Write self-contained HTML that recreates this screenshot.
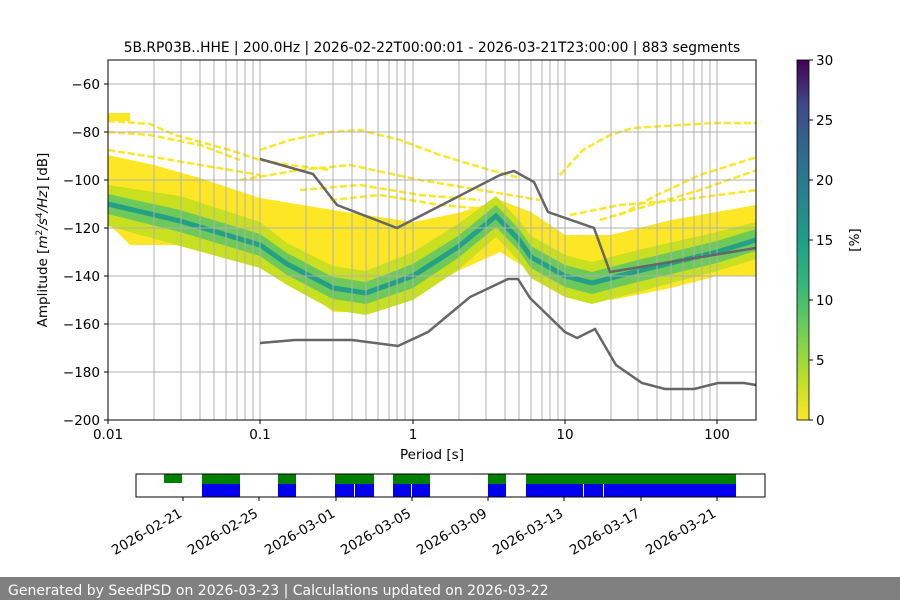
<!DOCTYPE html>
<html><head><meta charset="utf-8"><style>
body{margin:0;background:#fff;}
svg text{font-family:"DejaVu Sans","Liberation Sans",sans-serif;font-size:13.5px;fill:#000;}
</style></head><body>
<svg width="900" height="600" viewBox="0 0 900 600" xmlns="http://www.w3.org/2000/svg">
<defs>
<linearGradient id="vir" x1="0" y1="1" x2="0" y2="0">
<stop offset="0" stop-color="#fde725"/><stop offset="0.125" stop-color="#b5de2b"/>
<stop offset="0.25" stop-color="#6ece58"/><stop offset="0.375" stop-color="#35b779"/>
<stop offset="0.5" stop-color="#1f9e89"/><stop offset="0.625" stop-color="#26828e"/>
<stop offset="0.75" stop-color="#31688e"/><stop offset="0.875" stop-color="#3e4989"/>
<stop offset="1" stop-color="#440154"/></linearGradient>
<clipPath id="pc"><rect x="108" y="60" width="648" height="360"/></clipPath>
</defs>
<text x="432" y="52" text-anchor="middle" style="font-size:13.8px">5B.RP03B..HHE | 200.0Hz | 2026-02-22T00:00:01 - 2026-03-21T23:00:00 | 883 segments</text>
<g clip-path="url(#pc)">
<rect x="108" y="113" width="22" height="8" fill="#fde725"/>
<g fill="none" stroke="#fde725" stroke-width="2.5" stroke-dasharray="7 3">
<polyline points="108,121 150,124 175,135 230,150 260,160 290,165 330,170"/>
<polyline points="108,132 150,135 200,145 240,160"/>
<polyline points="108,150 160,158 200,165 260,175"/>
<polyline points="260,150 290,140 330,132 360,130 400,140 440,155 490,170 520,178"/>
<polyline points="240,180 300,170 350,165 420,180 480,190 540,200"/>
<polyline points="300,190 360,185 420,195 480,200"/>
<polyline points="330,200 380,195 440,205 500,210"/>
<polyline points="560,175 583,150 610,135 633,128 713,123 757,123"/>
<polyline points="620,215 657,195 700,175 757,157"/>
<polyline points="600,220 650,205 700,190 757,170"/>
<polyline points="570,215 620,205 680,200 757,190"/>
</g>
<path fill="#fde725" d="M108,155 L154,165 200,178 260,198 333,210 413,222 458,213 500,200 531,212 565,235 611,235 671,220 756,205 L756,276 717,276 671,288 611,300 565,295 531,271 500,252 458,271 413,295 366,312 333,312 287,276 260,257 200,245 130,245 108,223 Z"/>
<path fill="#c8e020" d="M108,185 L180,196 260,222 287,243 333,266 366,271 413,252 458,224 496,196 519,220 531,236 565,255 592,262 638,250 717,232 756,222 L756,259 717,271 638,292 592,304 565,297 531,278 519,261 496,237 458,270 413,300 366,315 333,310 287,285 260,268 180,246 108,226 Z"/>
<path fill="#6cc95a" d="M108,194 L180,210 260,234 287,253 333,277 366,282 413,264 458,236 496,205 519,229 531,246 565,265 592,272 638,260 717,241 756,229 L756,251 717,263 638,282 592,294 565,287 531,268 519,251 496,227 458,258 413,288 366,304 333,299 287,275 260,256 180,232 108,214 Z"/>
<polyline fill="none" stroke="#23a085" stroke-width="5" points="108,204 180,221 260,245 287,264 333,288 366,293 413,276 458,247 496,216 519,240 531,257 565,276 592,283 638,271 717,252 756,240"/>
</g>
<g stroke="#b0b0b0" stroke-width="1">
<path d="M154,60V420M181,60V420M200,60V420M214,60V420M226,60V420M237,60V420M245,60V420M253,60V420M260,60V420M306,60V420M333,60V420M352,60V420M366,60V420M378,60V420M389,60V420M397,60V420M405,60V420M413,60V420M459,60V420M486,60V420M505,60V420M519,60V420M531,60V420M542,60V420M550,60V420M558,60V420M565,60V420M611,60V420M638,60V420M657,60V420M671,60V420M683,60V420M694,60V420M702,60V420M710,60V420M717,60V420"/>
<path d="M108,84H756M108,132H756M108,180H756M108,228H756M108,276H756M108,324H756M108,372H756"/>
</g>
<g fill="none" stroke="#666" stroke-width="2.5">
<polyline points="260,159 313,174 337,205 397,228 500,175 514,171 534,182 548,212 594,228 610,272 756,248"/>
<polyline points="260,343 295,340 352,340 398,346 428,332 470,297 508,279 518,279 530,298 565,332 577,338 595,329 616,365 642,383 665,389 694,389 718,383 744,383 756,385"/>
</g>
<rect x="108" y="60" width="648" height="360" fill="none" stroke="#000" stroke-width="1"/>
<g stroke="#000"><path d="M104,84H108M104,132H108M104,180H108M104,228H108M104,276H108M104,324H108M104,372H108M104,420H108M108,420V424M260,420V424M413,420V424M565,420V424M717,420V424"/></g>
<g text-anchor="end">
<text x="100" y="89">−60</text><text x="100" y="137">−80</text><text x="100" y="185">−100</text><text x="100" y="233">−120</text><text x="100" y="281">−140</text><text x="100" y="329">−160</text><text x="100" y="377">−180</text><text x="100" y="425">−200</text>
</g>
<g text-anchor="middle">
<text x="108" y="439">0.01</text><text x="260" y="439">0.1</text><text x="413" y="439">1</text><text x="565" y="439">10</text><text x="717" y="439">100</text>
<text x="432" y="459">Period [s]</text>
</g>
<text transform="translate(47,240) rotate(-90)" text-anchor="middle">Amplitude [<tspan font-style="italic">m</tspan><tspan dy="-5" font-size="9">2</tspan><tspan dy="5" font-style="italic">/s</tspan><tspan dy="-5" font-size="9">4</tspan><tspan dy="5" font-style="italic">/Hz</tspan>] [dB]</text>
<rect x="797" y="60" width="12" height="360" fill="url(#vir)"/>
<rect x="797" y="60" width="12" height="360" fill="none" stroke="#000" stroke-width="0.8"/>
<g stroke="#000"><path d="M809,60H813M809,120H813M809,180H813M809,240H813M809,300H813M809,360H813M809,420H813"/></g>
<text x="816" y="65">30</text><text x="816" y="125">25</text><text x="816" y="185">20</text><text x="816" y="245">15</text><text x="816" y="305">10</text><text x="816" y="365">5</text><text x="816" y="425">0</text>
<text transform="translate(859,240) rotate(-90)" text-anchor="middle">[%]</text>
<g fill="#008000">
<rect x="164" y="474" width="18" height="9"/><rect x="202" y="474" width="38" height="10"/><rect x="278" y="474" width="18" height="10"/><rect x="335" y="474" width="39" height="10"/><rect x="393" y="474" width="37" height="10"/><rect x="488" y="474" width="18" height="10"/><rect x="526" y="474" width="210" height="10"/>
</g>
<g fill="#0000ee">
<rect x="202" y="484" width="38" height="13"/><rect x="278" y="484" width="18" height="13"/><rect x="335" y="484" width="39" height="13"/><rect x="393" y="484" width="37" height="13"/><rect x="488" y="484" width="18" height="13"/><rect x="526" y="484" width="210" height="13"/>
</g>
<g stroke="#fff" stroke-width="1"><path d="M354.5,484V497M411.5,484V497M583.5,484V497M603.5,484V497"/></g>
<rect x="136" y="474" width="629" height="23" fill="none" stroke="#000" stroke-width="1"/>
<g stroke="#000"><path d="M183,497V501M259,497V501M336,497V501M412,497V501M488,497V501M564,497V501M641,497V501M717,497V501"/></g>
<g text-anchor="end">
<text transform="translate(183,516) rotate(-30)">2026-02-21</text>
<text transform="translate(259,516) rotate(-30)">2026-02-25</text>
<text transform="translate(336,516) rotate(-30)">2026-03-01</text>
<text transform="translate(412,516) rotate(-30)">2026-03-05</text>
<text transform="translate(488,516) rotate(-30)">2026-03-09</text>
<text transform="translate(564,516) rotate(-30)">2026-03-13</text>
<text transform="translate(641,516) rotate(-30)">2026-03-17</text>
<text transform="translate(717,516) rotate(-30)">2026-03-21</text>
</g>
<rect x="0" y="577" width="900" height="23" fill="#808080"/>
<text x="8" y="595" style="fill:#fff;font-size:14px">Generated by SeedPSD on 2026-03-23 | Calculations updated on 2026-03-22</text>
</svg>
</body></html>
